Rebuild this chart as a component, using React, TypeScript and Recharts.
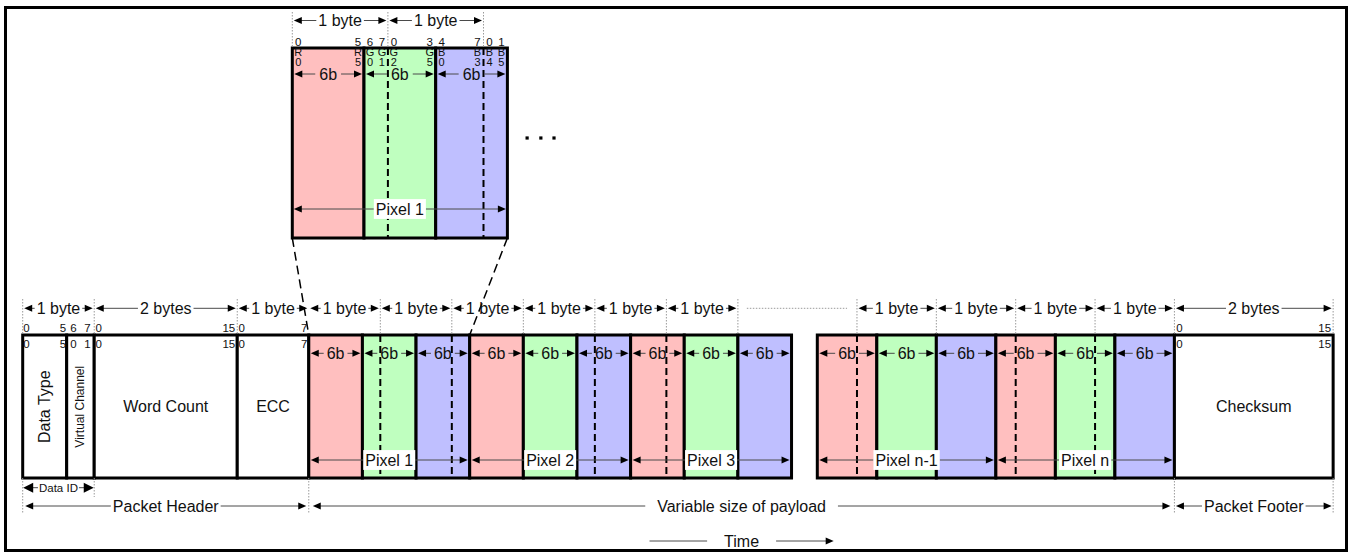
import React from 'react';
import {
  ComposedChart, XAxis, YAxis, Line,
  ReferenceArea, ReferenceLine, ReferenceDot,
} from 'recharts';

// ─── Data ─────────────────────────────────────────────────────────────────────

const headerFields    = ['Data Type', 'Virtual Channel', 'Word Count', 'ECC'];
const headerFieldBits = [6, 2, 16, 8];
const headerGroups    = ['1 byte', '2 bytes', '1 byte'];
const headerGroupBits = [8, 16, 8];
const components      = ['R', 'G', 'B'];
const componentBits   = 6;
const componentLabel  = '6b';
const byteBits        = 8;
const byteLabel       = '1 byte';
const leftPixels      = ['Pixel 1', 'Pixel 2', 'Pixel 3'];
const rightPixels     = ['Pixel n-1', 'Pixel n'];
const rightStartBit   = 4;            // Pixel n-1 starts 4 bits into a byte
const footerField     = 'Checksum';
const footerBits      = 16;
const footerGroup     = '2 bytes';
const detailPixel     = 'Pixel 1';
const dataIdLabel     = 'Data ID';
const headerLabel     = 'Packet Header';
const payloadLabel    = 'Variable size of payload';
const footerLabel     = 'Packet Footer';
const timeLabel       = 'Time';

// ─── Layout ───────────────────────────────────────────────────────────────────

const W = 1354;
const H = 557;
const FONT = 'Arial, "Liberation Sans", sans-serif';
const INK  = '#111';
const DIM  = '#4a4a4a';
const FILL: Record<string, string> = { R: '#ffbfbf', G: '#bfffbf', B: '#bfbfff' };

// three bit axes: T = zoomed pixel, L = header + first pixels, R = last pixels + footer
const AXES: Record<string, { origin: number; perBit: number }> = {
  T: { origin: 292.3, perBit: 11.95 },
  L: { origin: 22.7,  perBit: 8.94 },
  R: { origin: 817.3, perBit: 9.92 },
};
const domainOf = (id: string) => {
  const a = AXES[id];
  return [-a.origin / a.perBit, (W - a.origin) / a.perBit];
};
const conv = (v: number, from: string, to: string) =>
  (AXES[from].origin + v * AXES[from].perBit - AXES[to].origin) / AXES[to].perBit;

const DATA_TYPE_DRAWN = 4.92;   // Data Type box is drawn narrower than 6 bits
const TIME_HALF       = 10.3;
const DOTS_T          = [19.65, 20.8, 21.9];
const NUM_SIZE        = 11.5;

const Y = {
  tTick: 12, tByte: 20.5, tNum: 42, tTop: 48, tLetter: 51.8, tIdx: 61.5, t6b: 74,
  tDots: 138, tPixel: 209, tBot: 238,
  bTick: 299, bByte: 308.3, bNum: 327.7, bTop: 335, bIdx: 344, b6b: 353.3,
  bMid: 406.7, bPixel: 460, bBot: 478,
  dataId: 487.7, dataIdTick: 497, span: 506, spanTick: 513, time: 541,
};

// ─── Helpers ──────────────────────────────────────────────────────────────────

let ctx: CanvasRenderingContext2D | null = null;
function textWidth(t: string, size: number) {
  if (!ctx) ctx = document.createElement('canvas').getContext('2d');
  if (!ctx) return t.length * size * 0.55;
  ctx.font = `${size}px ${FONT}`;
  return ctx.measureText(t).width;
}

// eslint-disable-next-line @typescript-eslint/no-explicit-any
function DimArrow(props: any) {
  const {
    x1, y1, x2, text, size = 16, head = 8, half = 3.5, inset = 1.5,
    gap = 2, bg = false, left = true, right = true,
  } = props;
  if (x1 == null || x2 == null || y1 == null) return <g />;
  const a = Math.min(x1, x2) + inset;
  const b = Math.max(x1, x2) - inset;
  const y = y1;
  const cx = (a + b) / 2;
  const tw = text ? textWidth(text, size) : 0;
  const tl = cx - tw / 2 - gap;
  const tr = cx + tw / 2 + gap;
  const la = left ? a + head - 1 : a;
  const rb = right ? b - head + 1 : b;
  return (
    <g>
      {text ? (
        <>
          {tl > la && <line x1={la} y1={y} x2={tl} y2={y} stroke={DIM} strokeWidth={1} />}
          {rb > tr && <line x1={tr} y1={y} x2={rb} y2={y} stroke={DIM} strokeWidth={1} />}
        </>
      ) : (
        <line x1={la} y1={y} x2={rb} y2={y} stroke={DIM} strokeWidth={1} />
      )}
      {left && <polygon points={`${a},${y} ${a + head},${y - half} ${a + head},${y + half}`} fill="#000" />}
      {right && <polygon points={`${b},${y} ${b - head},${y - half} ${b - head},${y + half}`} fill="#000" />}
      {text && bg && (
        <rect x={tl} y={y - size * 0.62} width={tr - tl} height={size * 1.24} fill="#fff" />
      )}
      {text && (
        <text x={cx} y={y} fontSize={size} fontFamily={FONT} fill={INK}
          textAnchor="middle" dominantBaseline="central">{text}</text>
      )}
    </g>
  );
}

// ─── Component ────────────────────────────────────────────────────────────────

export default function App() {
  const areas: React.ReactElement[] = [];
  const lines: React.ReactElement[] = [];
  const dims:  React.ReactElement[] = [];
  const texts: React.ReactElement[] = [];
  let n = 0;
  const k = () => `k${n++}`;

  const box = (ax: string, x1: number, x2: number, y1: number, y2: number, fill: string) =>
    areas.push(
      <ReferenceArea key={k()} xAxisId={ax} yAxisId="y" x1={x1} x2={x2} y1={y1} y2={y2}
        fill={fill} fillOpacity={1} stroke="#000" strokeWidth={3} ifOverflow="visible" />,
    );
  const seg = (ax: string, x1: number, y1: number, x2: number, y2: number, kind: 'dash' | 'dot' | 'link') =>
    lines.push(
      <ReferenceLine key={k()} xAxisId={ax} yAxisId="y"
        segment={[{ x: x1, y: y1 }, { x: x2, y: y2 }]} ifOverflow="visible"
        stroke={kind === 'dot' ? '#9a9a9a' : '#000'}
        strokeWidth={kind === 'dash' ? 2 : kind === 'link' ? 1.5 : 1}
        strokeDasharray={kind === 'dash' ? '7 4' : kind === 'link' ? '9 5' : '1.5 1.5'} />,
    );
  // eslint-disable-next-line @typescript-eslint/no-explicit-any
  const dim = (ax: string, x1: number, x2: number, y: number, text: string, opts: any = {}) =>
    dims.push(
      <ReferenceLine key={k()} xAxisId={ax} yAxisId="y"
        segment={[{ x: x1, y }, { x: x2, y }]} ifOverflow="visible"
        shape={(p: any) => <DimArrow {...p} text={text} {...opts} />} />,
    );
  // eslint-disable-next-line @typescript-eslint/no-explicit-any
  const txt = (ax: string, x: number, y: number, text: string, opts: any = {}) => {
    const { size = NUM_SIZE, anchor = 'middle', rotate = 0 } = opts;
    texts.push(
      <ReferenceDot key={k()} xAxisId={ax} yAxisId="y" x={x} y={y} r={1} ifOverflow="visible"
        shape={(p: any) => (
          <text x={p.cx} y={p.cy} fontSize={size} fontFamily={FONT} fill={INK}
            textAnchor={anchor} dominantBaseline="central"
            transform={rotate ? `rotate(${rotate} ${p.cx} ${p.cy})` : undefined}>{text}</text>
        )} />,
    );
  };
  // bit index label centred on its bit, multi-digit end labels kept inside the field
  const bitNum = (ax: string, centre: number, fieldEnd: number, y: number, text: string) => {
    if (text.length > 1) txt(ax, fieldEnd - 2 / AXES[ax].perBit, y, text, { anchor: 'end' });
    else txt(ax, centre, y, text);
  };

  // ── Zoomed pixel (axis T) ──
  const pixelBits = components.length * componentBits;
  components.forEach((c, i) =>
    box('T', i * componentBits, (i + 1) * componentBits, Y.tTop, Y.tBot, FILL[c]));
  for (let b = byteBits; b < pixelBits; b += byteBits)
    if (b % componentBits) seg('T', b, Y.tTop, b, Y.tBot, 'dash');
  for (let b = 0; b < pixelBits; b += byteBits) seg('T', b, Y.tTick, b, Y.tTop, 'dot');
  for (let b = 0; b + byteBits <= pixelBits; b += byteBits)
    dim('T', b, b + byteBits, Y.tByte, byteLabel);
  for (let b = 0; b < pixelBits; b++) {
    const cb = b % componentBits;
    const bb = b % byteBits;
    if (cb === 0 || cb === componentBits - 1 || bb === 0 || bb === byteBits - 1) {
      txt('T', b + 0.5, Y.tNum, String(bb));
      txt('T', b + 0.5, Y.tLetter, components[Math.floor(b / componentBits)], { size: 11 });
      txt('T', b + 0.5, Y.tIdx, String(cb), { size: 11 });
    }
  }
  components.forEach((_, i) =>
    dim('T', i * componentBits, (i + 1) * componentBits, Y.t6b, componentLabel, { gap: 4, inset: 2 }));
  dim('T', 0, pixelBits, Y.tPixel, detailPixel, { bg: true });
  DOTS_T.forEach((x) => texts.push(
    <ReferenceDot key={k()} xAxisId="T" yAxisId="y" x={x} y={Y.tDots} r={1.5} ifOverflow="visible"
      shape={(p: any) => <rect x={p.cx - 1.6} y={p.cy - 1.6} width={3.2} height={3.2} fill="#000" />} />,
  ));

  // ── Packet header (axis L) ──
  const drawn = headerFieldBits.map((b, i) =>
    i === 0 ? DATA_TYPE_DRAWN : i === 1 ? headerFieldBits[0] + b - DATA_TYPE_DRAWN : b);
  const groupStarts = headerGroupBits.map((_, i) => headerGroupBits.slice(0, i).reduce((s, v) => s + v, 0));
  let pos = 0;
  let bitPos = 0;
  headerFields.forEach((name, i) => {
    const w = drawn[i];
    const nb = headerFieldBits[i];
    box('L', pos, pos + w, Y.bTop, Y.bBot, '#fff');
    const g = groupStarts.filter((s) => s <= bitPos).pop() ?? 0;
    const first = pos + 0.5 * w / nb;
    const last = pos + (nb - 0.5) * w / nb;
    bitNum('L', first, pos + w, Y.bNum, String(bitPos - g));
    bitNum('L', last, pos + w, Y.bNum, String(bitPos - g + nb - 1));
    bitNum('L', first, pos + w, Y.bIdx, '0');
    bitNum('L', last, pos + w, Y.bIdx, String(nb - 1));
    const rot = name === 'Data Type' || name === 'Virtual Channel';
    txt('L', pos + w / 2, Y.bMid, name, {
      size: name === 'Virtual Channel' ? 12 : 16, rotate: rot ? -90 : 0,
    });
    pos += w;
    bitPos += nb;
  });
  const headerBits = bitPos;
  headerGroups.forEach((label, i) => {
    dim('L', groupStarts[i], groupStarts[i] + headerGroupBits[i], Y.bByte, label);
    seg('L', groupStarts[i], Y.bTick, groupStarts[i], Y.bTop, 'dot');
  });

  // ── Payload, first pixels (axis L) ──
  const leftEnd = headerBits + leftPixels.length * pixelBits;
  for (let c = 0; c < leftPixels.length * components.length; c++) {
    const x = headerBits + c * componentBits;
    box('L', x, x + componentBits, Y.bTop, Y.bBot, FILL[components[c % components.length]]);
    dim('L', x, x + componentBits, Y.b6b, componentLabel, { gap: 3, inset: 2 });
  }
  let lastTick = headerBits;
  for (let b = headerBits; b + byteBits <= leftEnd; b += byteBits) {
    seg('L', b + byteBits, Y.bTick, b + byteBits, Y.bTop, 'dot');
    if ((b + byteBits - headerBits) % componentBits) seg('L', b + byteBits, Y.bTop, b + byteBits, Y.bBot, 'dash');
    dim('L', b, b + byteBits, Y.bByte, byteLabel);
    lastTick = b + byteBits;
  }
  leftPixels.forEach((p, i) =>
    dim('L', headerBits + i * pixelBits, headerBits + (i + 1) * pixelBits, Y.bPixel, p, { bg: true, inset: 2 }));

  // ── Payload, last pixels + footer (axis R) ──
  const rightEnd = rightPixels.length * pixelBits;
  for (let c = 0; c < rightPixels.length * components.length; c++) {
    const x = c * componentBits;
    box('R', x, x + componentBits, Y.bTop, Y.bBot, FILL[components[c % components.length]]);
    dim('R', x, x + componentBits, Y.b6b, componentLabel, { gap: 3, inset: 2 });
  }
  box('R', rightEnd, rightEnd + footerBits, Y.bTop, Y.bBot, '#fff');
  txt('R', rightEnd + footerBits / 2, Y.bMid, footerField, { size: 16 });
  [Y.bNum, Y.bIdx].forEach((y) => {
    bitNum('R', rightEnd + 0.5, rightEnd + footerBits, y, '0');
    bitNum('R', rightEnd + footerBits - 0.5, rightEnd + footerBits, y, String(footerBits - 1));
  });
  for (let b = rightStartBit; b <= rightEnd; b += byteBits) {
    seg('R', b, Y.bTick, b, Y.bTop, 'dot');
    if (b % componentBits) seg('R', b, Y.bTop, b, Y.bBot, 'dash');
    if (b + byteBits <= rightEnd) dim('R', b, b + byteBits, Y.bByte, byteLabel);
  }
  dim('R', rightEnd, rightEnd + footerBits, Y.bByte, footerGroup);
  seg('R', rightEnd + footerBits, Y.bTick, rightEnd + footerBits, Y.bTop, 'dot');
  rightPixels.forEach((p, i) =>
    dim('R', i * pixelBits, (i + 1) * pixelBits, Y.bPixel, p, { bg: true, inset: 2 }));

  // continuation between the two payload parts
  seg('R', conv(lastTick + 1, 'L', 'R'), Y.bByte, rightStartBit - 1, Y.bByte, 'dot');

  // ── Zoom links ──
  seg('L', conv(0, 'T', 'L'), Y.tBot, headerBits, Y.bTop, 'link');
  seg('L', conv(pixelBits, 'T', 'L'), Y.tBot, headerBits + pixelBits, Y.bTop, 'link');

  // ── Spans below ──
  seg('L', 0, Y.bBot, 0, Y.spanTick, 'dot');
  seg('L', byteBits, Y.bBot, byteBits, Y.dataIdTick, 'dot');
  seg('L', headerBits, Y.bBot, headerBits, Y.spanTick, 'dot');
  seg('R', rightEnd, Y.bBot, rightEnd, Y.spanTick, 'dot');
  seg('R', rightEnd + footerBits, Y.bBot, rightEnd + footerBits, Y.spanTick, 'dot');
  dim('L', 0, byteBits, Y.dataId, dataIdLabel, { size: 11.5, head: 10, half: 5, gap: 1, inset: 0.5 });
  dim('L', 0, headerBits, Y.span, headerLabel, { inset: 2.5 });
  const payloadEnd = conv(rightEnd, 'R', 'L');
  dim('L', headerBits, payloadEnd, Y.span, payloadLabel, { inset: 4, gap: 12 });
  dim('R', rightEnd, rightEnd + footerBits, Y.span, footerLabel, { inset: 1.5 });
  const mid = (headerBits + payloadEnd) / 2;
  dim('L', mid - TIME_HALF, mid + TIME_HALF, Y.time, timeLabel, { left: false, gap: 17, inset: 0 });

  // invisible anchors so every axis has data spanning its domain
  const anchors = (id: string) => domainOf(id).map((x, i) => ({ x, y: i ? H : 0 }));

  return (
    <div style={{ position: 'absolute', left: 0, top: 0, width: W, height: H, background: '#fff' }}>
      <div style={{
        position: 'absolute', left: 4, top: 6, width: 1344, height: 546,
        border: '3px solid #000', boxSizing: 'border-box',
      }} />
      <ComposedChart width={W} height={H} margin={{ top: 0, right: 0, bottom: 0, left: 0 }}
        data={anchors('L')} style={{ position: 'absolute', left: 0, top: 0 }}>
        {['T', 'L', 'R'].map((id) => (
          <XAxis key={id} xAxisId={id} dataKey="x" type="number" domain={domainOf(id)} allowDataOverflow hide />
        ))}
        <YAxis yAxisId="y" dataKey="y" type="number" domain={[0, H]} reversed allowDataOverflow hide />
        {['T', 'L', 'R'].map((id) => (
          <Line key={`a${id}`} xAxisId={id} yAxisId="y" data={anchors(id)} dataKey="y"
            stroke="none" dot={false} activeDot={false} isAnimationActive={false} />
        ))}
        {areas}
        {lines}
        {dims}
        {texts}
      </ComposedChart>
    </div>
  );
}
